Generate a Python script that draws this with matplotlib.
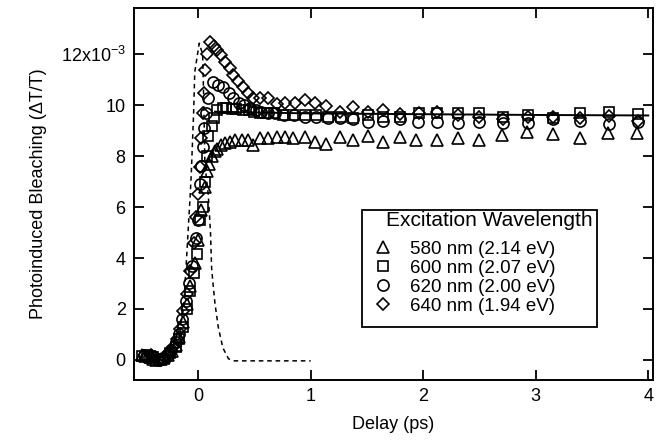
import matplotlib
matplotlib.use("Agg")
import matplotlib.pyplot as plt
from matplotlib.ticker import FixedLocator, FixedFormatter
from matplotlib.patches import Rectangle

plt.rcParams['font.family'] = ['Liberation Sans', 'DejaVu Sans']
plt.rcParams['mathtext.fontset'] = 'custom'
plt.rcParams['mathtext.rm'] = 'Liberation Sans'
plt.rcParams['mathtext.it'] = 'Liberation Sans:italic'

# ---- data (y in units of 1e-3) ----
x580 = [-0.50, -0.47, -0.43, -0.40, -0.37, -0.33, -0.30, -0.27, -0.23, -0.20, -0.17, -0.13, -0.10,
        -0.07, -0.03, 0.00, 0.03, 0.06, 0.08, 0.10, 0.12, 0.15, 0.17, 0.20, 0.24, 0.28, 0.33, 0.39,
        0.44, 0.49, 0.55, 0.62, 0.70, 0.77, 0.84, 0.95, 1.04, 1.14, 1.26, 1.38, 1.51, 1.64, 1.79,
        1.94, 2.12, 2.31, 2.50, 2.70, 2.92, 3.15, 3.39, 3.64, 3.90]
y580 = [0.20, 0.15, 0.10, 0.05, 0.00, 0.05, 0.10, 0.20, 0.35, 0.60, 0.90, 1.50, 2.20,
        2.90, 3.80, 4.70, 5.90, 6.80, 7.40, 7.70, 8.00, 8.20, 8.30, 8.43, 8.50, 8.54, 8.62, 8.62,
        8.62, 8.45, 8.70, 8.70, 8.74, 8.74, 8.70, 8.74, 8.54, 8.46, 8.74, 8.62, 8.78, 8.54, 8.74,
        8.62, 8.62, 8.70, 8.62, 8.82, 8.94, 8.86, 8.70, 8.90, 8.90]

x600 = [-0.50, -0.45, -0.40, -0.35, -0.30, -0.25, -0.20, -0.17, -0.13, -0.10, -0.07, -0.04, -0.01,
        0.02, 0.04, 0.06, 0.08, 0.09, 0.12, 0.14, 0.17, 0.22, 0.25, 0.30, 0.34, 0.40, 0.45, 0.50,
        0.55, 0.61, 0.67, 0.75, 0.84, 0.95, 1.05, 1.15, 1.27, 1.38, 1.51, 1.64, 1.79, 1.96, 2.12,
        2.31, 2.50, 2.71, 2.93, 3.15, 3.39, 3.65, 3.91]
y600 = [0.15, 0.20, 0.10, 0.00, 0.05, 0.25, 0.50, 0.80, 1.30, 2.00, 2.70, 3.40, 4.17,
        5.50, 6.00, 7.00, 8.00, 8.80, 9.20, 9.50, 9.80, 9.90, 9.90, 9.87, 9.87, 9.80, 9.80, 9.73,
        9.68, 9.68, 9.68, 9.60, 9.60, 9.60, 9.60, 9.55, 9.53, 9.49, 9.60, 9.53, 9.53, 9.68, 9.68,
        9.68, 9.68, 9.53, 9.60, 9.49, 9.68, 9.72, 9.65]

x620 = [-0.48, -0.44, -0.40, -0.36, -0.32, -0.28, -0.24, -0.20, -0.17, -0.14, -0.11, -0.08, -0.05,
        -0.02, 0.00, 0.02, 0.03, 0.04, 0.05, 0.07, 0.09, 0.13, 0.18, 0.22, 0.27, 0.31, 0.36, 0.41,
        0.46, 0.51, 0.56, 0.62, 0.68, 0.76, 0.85, 0.95, 1.05, 1.15, 1.26, 1.38, 1.51, 1.64, 1.79,
        1.95, 2.12, 2.31, 2.50, 2.71, 2.93, 3.15, 3.39, 3.65, 3.91]
y620 = [0.20, 0.10, 0.15, 0.00, 0.05, 0.15, 0.40, 0.70, 1.00, 1.60, 2.30, 3.00, 3.70,
        4.80, 5.50, 6.90, 7.60, 8.35, 9.10, 9.70, 10.30, 10.90, 10.80, 10.70, 10.50, 10.30, 10.10, 10.00,
        9.90, 9.80, 9.75, 9.70, 9.68, 9.60, 9.60, 9.55, 9.55, 9.50, 9.50, 9.45, 9.33, 9.40, 9.45,
        9.33, 9.33, 9.29, 9.33, 9.29, 9.29, 9.45, 9.37, 9.25, 9.33]

x640 = [-0.46, -0.42, -0.38, -0.34, -0.30, -0.26, -0.22, -0.19, -0.16, -0.13, -0.10, -0.07, -0.04,
        -0.02, 0.00, 0.02, 0.03, 0.04, 0.05, 0.06, 0.08, 0.11, 0.14, 0.17, 0.20, 0.24, 0.28, 0.31,
        0.35, 0.40, 0.44, 0.49, 0.55, 0.62, 0.70, 0.77, 0.86, 0.95, 1.04, 1.14, 1.26, 1.38, 1.51,
        1.64, 1.79, 1.96, 2.12, 2.31, 2.50, 2.71, 2.93, 3.15, 3.39, 3.65, 3.91]
y640 = [0.10, 0.20, 0.10, 0.00, 0.10, 0.30, 0.50, 0.80, 1.20, 1.90, 2.60, 3.50, 4.60,
        5.60, 6.50, 7.56, 8.70, 9.70, 10.50, 11.40, 12.00, 12.48, 12.32, 12.17, 11.97, 11.69, 11.45, 11.20,
        10.95, 10.72, 10.50, 10.30, 10.27, 10.30, 10.07, 10.10, 10.10, 10.20, 10.08, 9.98, 9.75, 9.92, 9.72,
        9.80, 9.65, 9.68, 9.72, 9.60, 9.55, 9.45, 9.55, 9.53, 9.50, 9.57, 9.40]

fit_x = [0.15, 0.50, 1.00, 2.00, 3.00, 4.00]
fit_y = [9.75, 9.72, 9.68, 9.65, 9.62, 9.60]

pulse_x = [-0.50, -0.25, -0.18, -0.15, -0.13, -0.10, -0.07, -0.06, -0.04, -0.03, 0.01, 0.04, 0.05,
           0.06, 0.09, 0.11, 0.12, 0.13, 0.15, 0.18, 0.22, 0.27, 0.32, 1.00]
pulse_y = [0.00, 0.00, 0.50, 1.50, 2.00, 4.20, 6.50, 7.40, 9.70, 11.30, 12.44, 12.00, 10.20,
           7.70, 6.50, 5.00, 3.60, 3.10, 2.20, 1.26, 0.47, 0.04, -0.04, -0.04]

labels = ['580 nm (2.14 eV)', '600 nm (2.07 eV)', '620 nm (2.00 eV)', '640 nm (1.94 eV)']
legend_title = 'Excitation Wavelength'
xticks = [0, 1, 2, 3, 4]
yticks = [0, 2, 4, 6, 8, 10, 12]
ytick_labels = ['0', '2', '4', '6', '8', '10', r'12x10$^{\mathregular{-3}}$']

FS = 13
LFS = 13.5

fig = plt.figure(figsize=(6.6, 4.47), dpi=100)
ax = fig.add_axes([0.203, 0.150, 0.786, 0.832])

ax.plot(pulse_x, pulse_y, color='black', lw=1.1, ls=(0, (3, 2.5)))
ax.plot(fit_x, fit_y, color='black', lw=1.4)

mk = dict(ls='none', mfc='none', mec='black', mew=1.2)
ax.plot(x580, y580, marker='^', ms=8, label=labels[0], **mk)
ax.plot(x600, y600, marker='s', ms=7, label=labels[1], **mk)
ax.plot(x620, y620, marker='o', ms=8, label=labels[2], **mk)
ax.plot(x640, y640, marker='D', ms=6, label=labels[3], **mk)

ax.set_xlim(-0.57, 4.04)
ax.set_ylim(-0.79, 13.82)
ax.xaxis.set_major_locator(FixedLocator(xticks))
ax.yaxis.set_major_locator(FixedLocator(yticks))
ax.yaxis.set_major_formatter(FixedFormatter(ytick_labels))
ax.tick_params(direction='in', length=7, width=1.3, top=True, right=True,
               labelsize=FS, pad=6)
for s in ax.spines.values():
    s.set_linewidth(1.4)

ax.set_xlabel('Delay (ps)', fontsize=FS, labelpad=8)
ax.set_ylabel('Photoinduced Bleaching (\u0394T/T)', fontsize=FS, labelpad=10)

# legend frame, title and entries
ax.add_patch(Rectangle((0.439, 0.1425), 0.453, 0.3145, transform=ax.transAxes,
                       fill=False, edgecolor='black', lw=1.3, zorder=5))
ax.text(0.685, 0.4274, legend_title, transform=ax.transAxes, fontsize=15,
        ha='center', va='center', zorder=6)
leg = ax.legend(loc='upper left', bbox_to_anchor=(0.4617, 0.374), frameon=False,
                fontsize=LFS, handlelength=1.0, handletextpad=0.94,
                labelspacing=0.10, borderpad=0, borderaxespad=0)

fig.savefig('out.png', dpi=100)
